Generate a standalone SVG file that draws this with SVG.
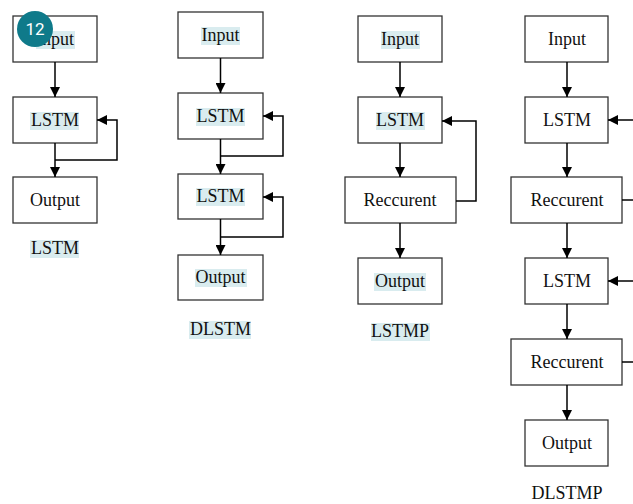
<svg xmlns="http://www.w3.org/2000/svg" width="633" height="504" viewBox="0 0 633 504">
<style>
.box{fill:#fff;stroke:#333;stroke-width:1.3}
.t{font-family:"Liberation Serif","Times New Roman",serif;font-size:18px;fill:#111;text-anchor:middle}
.hl{fill:#d9ecef}
.c{fill:none;stroke:#000;stroke-width:1.5}
.a{marker-end:url(#ah)}
</style>
<defs>
<marker id="ah" markerUnits="userSpaceOnUse" markerWidth="10" markerHeight="10" refX="10" refY="5" orient="auto">
<path d="M0,0 L10,5 L0,10 z" fill="#000"/>
</marker>
</defs>
<rect width="633" height="504" fill="#fff"/>

<!-- Column 1: LSTM -->
<g id="c1-input"><rect class="box" x="13" y="16" width="84" height="46"/><rect class="hl" x="36" y="31" width="39" height="18"/><text class="t" x="55" y="45">Input</text></g>
<g id="c1-lstm"><rect class="box" x="13" y="97" width="84" height="46"/><rect class="hl" x="30" y="112" width="49" height="18"/><text class="t" x="55" y="126">LSTM</text></g>
<g id="c1-output"><rect class="box" x="13" y="177" width="84" height="46"/><text class="t" x="55" y="206">Output</text></g>
<g id="c1-label"><rect class="hl" x="30" y="240" width="49" height="18"/><text class="t" x="55" y="254">LSTM</text></g>

<!-- Column 2: DLSTM -->
<g id="c2-input"><rect class="box" x="178" y="12" width="85" height="46"/><rect class="hl" x="201" y="27" width="39" height="18"/><text class="t" x="220.5" y="41">Input</text></g>
<g id="c2-lstm1"><rect class="box" x="178" y="93" width="85" height="46"/><rect class="hl" x="196" y="108" width="49" height="18"/><text class="t" x="220.5" y="122">LSTM</text></g>
<g id="c2-lstm2"><rect class="box" x="178" y="174" width="85" height="45"/><rect class="hl" x="196" y="188" width="49" height="18"/><text class="t" x="220.5" y="202">LSTM</text></g>
<g id="c2-output"><rect class="box" x="178" y="255" width="85" height="45"/><rect class="hl" x="195" y="269" width="52" height="18"/><text class="t" x="220.5" y="283">Output</text></g>
<g id="c2-label"><rect class="hl" x="189" y="321" width="62" height="18"/><text class="t" x="220.5" y="335">DLSTM</text></g>

<!-- Column 3: LSTMP -->
<g id="c3-input"><rect class="box" x="358" y="16" width="84" height="46"/><rect class="hl" x="381" y="31" width="39" height="18"/><text class="t" x="400" y="45">Input</text></g>
<g id="c3-lstm"><rect class="box" x="358" y="97" width="84" height="46"/><rect class="hl" x="376" y="112" width="49" height="18"/><text class="t" x="400" y="126">LSTM</text></g>
<g id="c3-rec"><rect class="box" x="345" y="177" width="111" height="46"/><text class="t" x="400" y="206">Reccurent</text></g>
<g id="c3-output"><rect class="box" x="358" y="258" width="84" height="46"/><rect class="hl" x="374" y="273" width="52" height="18"/><text class="t" x="400" y="287">Output</text></g>
<g id="c3-label"><rect class="hl" x="371" y="323" width="59" height="18"/><text class="t" x="400" y="337">LSTMP</text></g>

<!-- Column 4: DLSTMP -->
<g id="c4-input"><rect class="box" x="525" y="16" width="83" height="46"/><text class="t" x="567" y="45">Input</text></g>
<g id="c4-lstm1"><rect class="box" x="525" y="97" width="83" height="46"/><text class="t" x="567" y="126">LSTM</text></g>
<g id="c4-rec1"><rect class="box" x="511" y="177" width="111" height="46"/><text class="t" x="567" y="206">Reccurent</text></g>
<g id="c4-lstm2"><rect class="box" x="525" y="258" width="83" height="46"/><text class="t" x="567" y="287">LSTM</text></g>
<g id="c4-rec2"><rect class="box" x="511" y="339" width="111" height="46"/><text class="t" x="567" y="368">Reccurent</text></g>
<g id="c4-output"><rect class="box" x="525" y="420" width="83" height="46"/><text class="t" x="567" y="449">Output</text></g>
<g id="c4-label"><text class="t" x="567" y="499">DLSTMP</text></g>

<g id="connectors">
<!-- col1 -->
<path class="c a" d="M55,62 V97"/>
<path class="c a" d="M55,143 V177"/>
<path class="c a" d="M55,160 H117 V120 H97"/>
<!-- col2 -->
<path class="c a" d="M220.5,58 V93"/>
<path class="c a" d="M220.5,139 V174"/>
<path class="c a" d="M220.5,156 H283 V116 H263"/>
<path class="c a" d="M220.5,219 V255"/>
<path class="c a" d="M220.5,237 H283 V197 H263"/>
<!-- col3 -->
<path class="c a" d="M400,62 V97"/>
<path class="c a" d="M400,143 V177"/>
<path class="c a" d="M400,223 V258"/>
<path class="c a" d="M456,201 H476 V121 H442"/>
<!-- col4 -->
<path class="c a" d="M567,62 V97"/>
<path class="c a" d="M567,143 V177"/>
<path class="c a" d="M567,223 V258"/>
<path class="c a" d="M567,304 V339"/>
<path class="c a" d="M567,385 V420"/>
<path class="c a" d="M640,120 H608"/>
<path class="c" d="M622,200 H640"/>
<path class="c a" d="M640,281 H608"/>
<path class="c" d="M622,362 H640"/>
</g>

<g id="badge"><circle cx="35" cy="29" r="18" fill="#0f7a8a"/><text x="35" y="35" font-family="Roboto,'Noto Sans',sans-serif" font-size="17" fill="#fff" text-anchor="middle">12</text></g>
</svg>
